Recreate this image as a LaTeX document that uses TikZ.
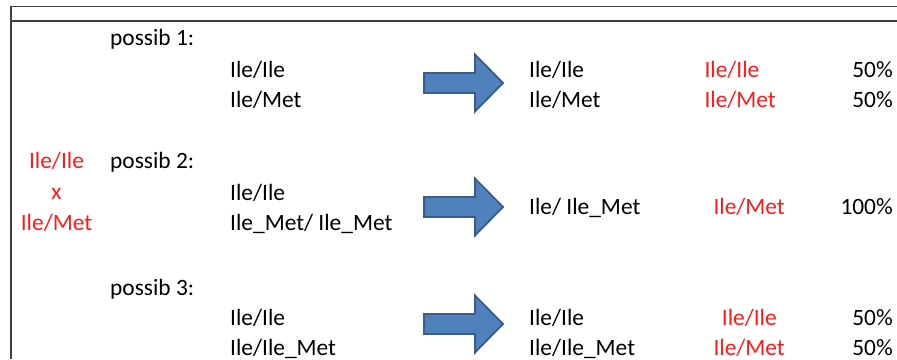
\documentclass[tikz,border=0pt]{standalone}
\usepackage{fontspec}
\setmainfont{Carlito}
\definecolor{arrowfill}{HTML}{4F81BD}
\definecolor{arrowedge}{HTML}{385D8A}
\definecolor{rulegray}{HTML}{404040}
\definecolor{txtred}{HTML}{FF1A1A}
\begin{document}
\begin{tikzpicture}[x=1pt,y=-1pt,
  lbl/.style={inner sep=0pt,anchor=base west,font=\fontsize{23.4}{26}\selectfont,text=black},
  redlbl/.style={lbl,text=txtred},
  pct/.style={lbl,anchor=base east},
  blockarrow/.style={fill=arrowfill,draw=arrowedge,line width=1.8pt,line join=miter}]
  \useasboundingbox (0,0) rectangle (897,359);
  % frame rules
  \draw[rulegray,line width=1.5pt] (11,359) -- (11,6.5) -- (897,6.5);
  \draw[rulegray,line width=1.5pt] (11,21) -- (897,21);

  % cross
  \node[redlbl,anchor=base] (p1) at (56.5,168.3) {Ile/Ile};
  \node[redlbl,anchor=base] (cx) at (56.5,199) {x};
  \node[redlbl,anchor=base] (p2) at (56.5,230.5) {Ile/Met};

  % possibility headings
  \node[lbl] (h1) at (110,45) {possib 1:};
  \node[lbl] (h2) at (110,168.3) {possib 2:};
  \node[lbl] (h3) at (110,295) {possib 3:};

  % parental genotypes
  \node[lbl] (a1) at (230,77.3) {Ile/Ile};
  \node[lbl] (a2) at (230,107.3) {Ile/Met};
  \node[lbl] (b1) at (230,200.7) {Ile/Ile};
  \node[lbl] (b2) at (230,230.7) {Ile\_Met/ Ile\_Met};
  \node[lbl] (c1) at (230,325.7) {Ile/Ile};
  \node[lbl] (c2) at (230,355.7) {Ile/Ile\_Met};

  % block arrows
  \foreach \cy in {83,207,324}{
    \draw[blockarrow] (424,\cy-10) -- (475,\cy-10) -- (475,\cy-28.5) -- (503,\cy)
      -- (475,\cy+28.5) -- (475,\cy+10) -- (424,\cy+10) -- cycle;
  }

  % offspring
  \node[lbl] (o1) at (529,77.3) {Ile/Ile};
  \node[lbl] (o2) at (529,107.3) {Ile/Met};
  \node[lbl] (o3) at (529,214.3) {Ile/ Ile\_Met};
  \node[lbl] (o4) at (529,325.7) {Ile/Ile};
  \node[lbl] (o5) at (529,355.7) {Ile/Ile\_Met};

  % phenotypes
  \node[redlbl] (r1) at (704.3,77.3) {Ile/Ile};
  \node[redlbl] (r2) at (704.3,107.3) {Ile/Met};
  \node[redlbl] (r3) at (713.3,214.3) {Ile/Met};
  \node[redlbl] (r4) at (721.7,325.7) {Ile/Ile};
  \node[redlbl] (r5) at (713.3,355.7) {Ile/Met};

  % proportions
  \node[pct] (q1) at (893,77.3) {50\%};
  \node[pct] (q2) at (893,107.3) {50\%};
  \node[pct] (q3) at (893,214.3) {100\%};
  \node[pct] (q4) at (893,325.7) {50\%};
  \node[pct] (q5) at (893,355.7) {50\%};
\end{tikzpicture}
\end{document}
